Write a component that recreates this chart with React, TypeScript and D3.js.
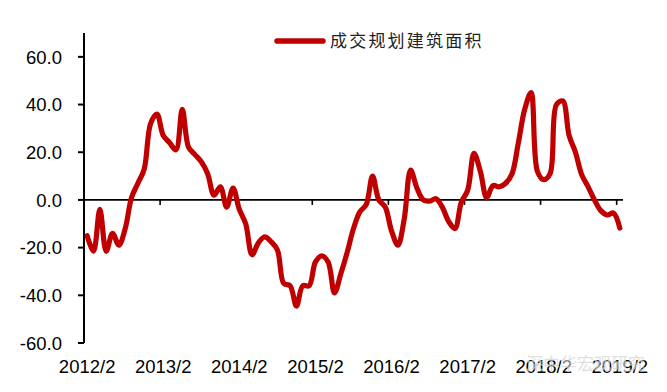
import React, { useEffect, useRef } from 'react';
import * as d3 from 'd3';

// monthly series, 2012/2 .. 2019/2
const startYear = 2012;
const startMonth = 2;
const values = [
  -15, -21.5, -4, -21.5, -14, -19, -12, 1, 7, 13, 32, 36,
  27, 24, 21, 38, 22, 19, 16, 11, 2, 5.5, -3, 5,
  -4, -10, -23, -18, -15.5, -17.5, -21, -35, -36, -44.5, -36, -36,
  -26, -23.5, -26, -39, -31, -22, -12, -5, -2, 10, 0, -3,
  -13, -19, -8, 12.5, 5, 0, -0.5, 0.5, -3, -9, -12, -1,
  4, 19.5, 12, 1, 6, 5.5, 7, 11, 24, 38, 45, 12,
  8.5, 11, 40, 41.5, 27, 20, 10.5, 5.5, 0, -4.5, -6.3, -5.5,
  -11.8
];
const yTicks = [-60, -40, -20, 0, 20, 40, 60];
const seriesName = '成交规划建筑面积';
const watermark = '深中华宏观研究';

const months = values.map((_, i) => {
  const m = startMonth - 1 + i;
  return (startYear + Math.floor(m / 12)) + '/' + ((m % 12) + 1);
});
const xLabels = months.filter((_, i) => i % 12 === 0);

export default function App() {
  const ref = useRef<SVGSVGElement>(null);

  useEffect(() => {
    const svg = d3.select(ref.current);
    svg.selectAll('*').remove();

    const left = 84, right = 623, top = 33, bottom = 343;
    const red = '#C00000';

    const x = d3.scaleBand<string>().domain(months).range([left, right]).paddingInner(0).paddingOuter(0);
    const y = d3.scaleLinear().domain([-60, 70]).range([bottom, top]);
    const cx = (m: string) => (x(m) as number) + x.bandwidth() / 2;

    // y axis
    svg.append('line')
      .attr('x1', left).attr('x2', left)
      .attr('y1', top).attr('y2', bottom)
      .attr('stroke', '#000').attr('stroke-width', 2);

    const yt = svg.append('g');
    yt.selectAll('line').data(yTicks).enter().append('line')
      .attr('x1', left - 6).attr('x2', left)
      .attr('y1', d => y(d)).attr('y2', d => y(d))
      .attr('stroke', '#000').attr('stroke-width', 2);
    yt.selectAll('text').data(yTicks).enter().append('text')
      .attr('x', 62).attr('y', d => y(d))
      .attr('dy', '0.36em')
      .attr('text-anchor', 'end')
      .attr('font-family', '"Liberation Sans", Arial, sans-serif')
      .attr('font-size', 18.5)
      .attr('fill', '#000')
      .text(d => d.toFixed(1));

    // x axis on zero line
    svg.append('line')
      .attr('x1', left).attr('x2', right)
      .attr('y1', y(0)).attr('y2', y(0))
      .attr('stroke', '#000').attr('stroke-width', 1.6);

    svg.append('g').selectAll('line').data(xLabels).enter().append('line')
      .attr('x1', d => x(d) as number).attr('x2', d => x(d) as number)
      .attr('y1', y(0)).attr('y2', y(0) + 5)
      .attr('stroke', '#000').attr('stroke-width', 1.6);

    svg.append('g').selectAll('text').data(xLabels).enter().append('text')
      .attr('x', d => cx(d)).attr('y', 373)
      .attr('text-anchor', 'middle')
      .attr('font-family', '"Liberation Sans", Arial, sans-serif')
      .attr('font-size', 18.5)
      .attr('fill', '#000')
      .text(d => d);

    // series
    const line = d3.line<number>()
      .x((_, i) => cx(months[i]))
      .y(d => y(d))
      .curve(d3.curveCatmullRom.alpha(0.5));

    svg.append('path')
      .datum(values)
      .attr('d', line)
      .attr('fill', 'none')
      .attr('stroke', red)
      .attr('stroke-width', 5.2)
      .attr('stroke-linejoin', 'round')
      .attr('stroke-linecap', 'round');

    // legend
    svg.append('line')
      .attr('x1', 277).attr('x2', 323)
      .attr('y1', 41).attr('y2', 41)
      .attr('stroke', red).attr('stroke-width', 5.5)
      .attr('stroke-linecap', 'round');
    svg.append('text')
      .attr('x', 330).attr('y', 47)
      .attr('font-family', '"Noto Sans CJK SC", sans-serif')
      .attr('font-size', 17)
      .attr('letter-spacing', 2.2)
      .attr('fill', '#222')
      .text(seriesName);

    // watermark (overlaps the last labels, as in the source image)
    svg.append('text')
      .attr('x', 526).attr('y', 370)
      .attr('font-family', '"Noto Sans CJK SC", sans-serif')
      .attr('font-size', 17)
      .attr('fill', '#999')
      .attr('fill-opacity', 0.55)
      .attr('stroke', '#fff')
      .attr('stroke-opacity', 0.5)
      .attr('stroke-width', 1)
      .text(watermark);
  }, []);

  return (
    <div style={{ position: 'absolute', left: 0, top: 0 }}>
      <svg ref={ref} width={667} height={392} style={{ display: 'block', background: '#fff' }} />
    </div>
  );
}
